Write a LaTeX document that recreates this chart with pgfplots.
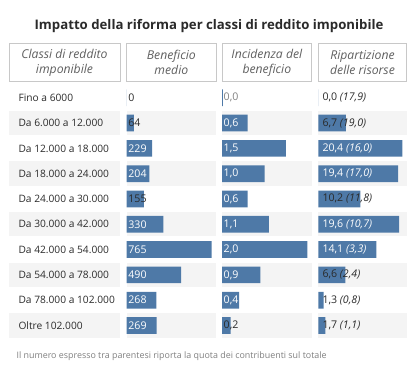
\documentclass[border=0pt]{standalone}
\usepackage{fontspec}
\setmainfont{Open Sans}
\usepackage{pgfplots}
\usepackage{pgfplotstable}
\pgfplotsset{compat=1.18}
\definecolor{barblue}{HTML}{4E79A7}
\definecolor{band}{HTML}{F4F4F4}
\definecolor{txt}{HTML}{2A2A2A}
\definecolor{hdr}{HTML}{606060}
\definecolor{boxc}{HTML}{C8C8C8}
\definecolor{foot}{HTML}{808080}

\pgfplotstableread[col sep=semicolon]{
row;val;lab;w
1;0;0;0
2;64;64;0
3;229;229;1
4;204;204;1
5;155;155;0
6;330;330;1
7;765;765;1
8;490;490;1
9;268;268;1
10;269;269;1
}\tbenef

\pgfplotstableread[col sep=semicolon]{
row;val;lab;w
1;0.02;0,0;2
2;0.6;0,6;1
3;1.5;1,5;1
4;1.0;1,0;1
5;0.6;0,6;1
6;1.1;1,1;1
7;2.0;2,0;1
8;0.9;0,9;1
9;0.4;0,4;1
10;0.2;0,2;0
}\tincid

\pgfplotstableread[col sep=semicolon]{
row;val;lab;w
1;0;0,0 \textit{(17,9)};0
2;6.7;6,7 \textit{(19,0)};0
3;20.4;20,4 \textit{(16,0)};1
4;19.4;19,4 \textit{(17,0)};1
5;10.2;10,2 \textit{(11,8)};0
6;19.6;19,6 \textit{(10,7)};1
7;14.1;14,1 \textit{(3,3)};1
8;6.6;6,6 \textit{(2,4)};0
9;1.3;1,3 \textit{(0,8)};0
10;1.7;1,7 \textit{(1,1)};0
}\tripart

\pgfplotsset{
  colaxis/.style={
    anchor=south west, scale only axis, height=253pt,
    xmin=0, ymin=0.5, ymax=10.5, y dir=reverse,
    axis line style={draw=none}, tick style={draw=none},
    xtick=\empty, ytick=\empty, clip=false,
  },
  bars/.style={xbar, bar width=0.66, fill=barblue, draw=none},
  labs/.style n args={3}{only marks, mark=text, text mark={},
    point meta=explicit symbolic, nodes near coords,
    restrict expr to domain={\thisrow{w}}{#3:#3},
    nodes near coords align={horizontal},
    every node near coord/.append style={anchor=west, inner sep=0pt, xshift=#1,
      text=#2, font=\fontsize{10.6}{12}\selectfont}},
}

\begin{document}
\begin{tikzpicture}[x=1pt,y=1pt]
\path[use as bounding box] (0,0) rectangle (416,371);

% title
\node[font=\fontsize{13.2}{15}\selectfont\bfseries, text=txt] at (209,345.3)
  {Impatto della riforma per classi di reddito imponibile};

% row bands
\foreach \r in {2,4,6,8,10}{
  \pgfmathsetmacro\yc{371-(97.8+25.3*(\r-1))}
  \foreach \xa/\xb in {9/120,126.7/216,222/311.7,318.3/406.7}{
    \fill[band] (\xa,\yc-12.2) rectangle (\xb,\yc+12.2);
  }
}

% header boxes
\foreach \xa/\xb/\t in {9/120/{Classi di reddito\\imponibile},
                        126.7/216/{Beneficio\\medio},
                        222/311.7/{Incidenza del\\beneficio},
                        318.3/406.7/{Ripartizione\\delle risorse}}{
  \draw[boxc, line width=0.8pt, fill=white] (\xa,289.3) rectangle (\xb,327.7);
  \node[align=center, text=hdr, font=\fontsize{12.2}{15}\selectfont\itshape]
    at ({(\xa+\xb)/2},308.5) {\t};
}

% column 2: beneficio medio (with row names as tick labels)
\begin{axis}[colaxis, at={(126.7pt,32.85pt)}, width=89.3pt, xmax=803.7,
  ytick={1,...,10},
  yticklabels={Fino a 6000,Da 6.000 a 12.000,Da 12.000 a 18.000,Da 18.000 a 24.000,
    Da 24.000 a 30.000,Da 30.000 a 42.000,Da 42.000 a 54.000,Da 54.000 a 78.000,
    Da 78.000 a 102.000,Oltre 102.000},
  yticklabel style={anchor=west, xshift=-111.7pt, text=txt,
    font=\fontsize{10.2}{12}\selectfont}]
\addplot[bars] table[x=val, y=row]{\tbenef};
\addplot[labs={1.5pt}{white}{1}] table[x expr=0, y=row, meta=lab]{\tbenef};
\addplot[labs={1.5pt}{txt}{0}] table[x expr=0, y=row, meta=lab]{\tbenef};
\end{axis}

% column 3: incidenza
\begin{axis}[colaxis, at={(222pt,32.85pt)}, width=89.7pt, xmax=2.103]
\addplot[bars] table[x=val, y=row]{\tincid};
\addplot[labs={1.5pt}{white}{1}] table[x expr=0, y=row, meta=lab]{\tincid};
\addplot[labs={1.5pt}{txt}{0}] table[x expr=0, y=row, meta=lab]{\tincid};
\addplot[labs={1.5pt}{foot}{2}] table[x expr=0, y=row, meta=lab]{\tincid};
\end{axis}

% column 4: ripartizione
\begin{axis}[colaxis, at={(318.3pt,32.85pt)}, width=88.4pt, xmax=21.47]
\addplot[bars] table[x=val, y=row]{\tripart};
\addplot[labs={4pt}{white}{1}] table[x expr=0, y=row, meta=lab]{\tripart};
\addplot[labs={4pt}{txt}{0}] table[x expr=0, y=row, meta=lab]{\tripart};
\end{axis}

% footnote
\node[anchor=west, text=foot, font=\fontsize{8.9}{10}\selectfont] at (13,15.3)
  {Il numero espresso tra parentesi riporta la quota dei contribuenti sul totale};
\end{tikzpicture}
\end{document}
